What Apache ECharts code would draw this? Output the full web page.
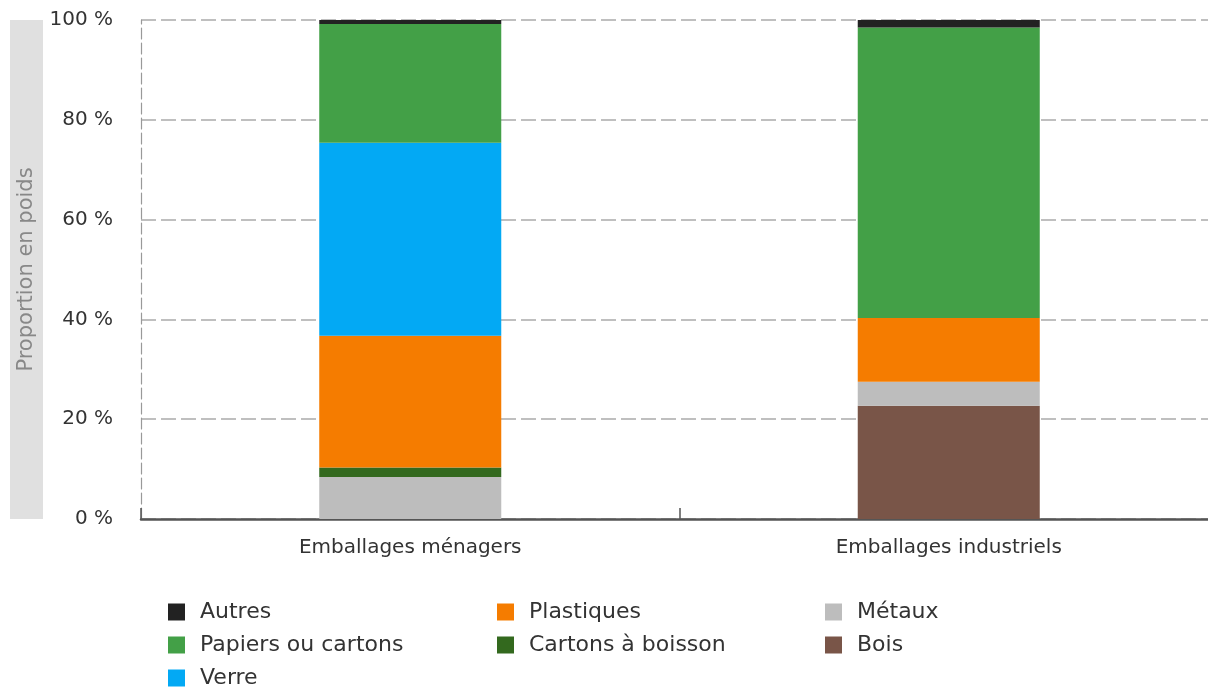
<!DOCTYPE html>
<html><head><meta charset="utf-8">
<script src="https://cdn.jsdelivr.net/npm/echarts@6/dist/echarts.min.js"></script>
<style>html,body{margin:0;padding:0;background:#fff}#c{width:1208px;height:688px}</style>
</head><body><div id="c"></div>
<script>
const categories = ['Emballages ménagers', 'Emballages industriels'];
const yTicks = [0, 20, 40, 60, 80, 100];
const bois = [0, 22.7];
const metaux = [8.4, 4.8];
const cartonsBoisson = [1.9, 0];
const plastiques = [26.4, 12.8];
const verre = [38.7, 0];
const papiers = [23.8, 58.2];
const autres = [0.8, 1.5];

const font = 'DejaVu Sans';
const seriesDefs = [
  ['Bois', bois, '#795548'],
  ['Métaux', metaux, '#bdbdbd'],
  ['Cartons à boisson', cartonsBoisson, '#33691e'],
  ['Plastiques', plastiques, '#f57c00'],
  ['Verre', verre, '#03a9f4'],
  ['Papiers ou cartons', papiers, '#43a047'],
  ['Autres', autres, '#222222']
];
const legendCommon = {
  orient: 'vertical', top: 601, height: 120, padding: 0,
  itemWidth: 17, itemHeight: 17, itemGap: 11,
  icon: 'rect',
  textStyle: {fontFamily: font, fontSize: 22, color: '#333', padding: [0, 0, 0, 10]}
};
const chart = echarts.init(document.getElementById('c'));
chart.setOption({
  animation: false,
  textStyle: {fontFamily: font},
  graphic: [{type: 'rect', shape: {x: 10, y: 20, width: 33, height: 499}, style: {fill: '#e0e0e0'}, z: -1}],
  grid: {left: 141, width: 1077, top: 20, bottom: 169, outerBoundsMode: 'none', containLabel: false},
  legend: [
    Object.assign({left: 168, data: ['Autres', 'Papiers ou cartons', 'Verre']}, legendCommon),
    Object.assign({left: 497, data: ['Plastiques', 'Cartons à boisson']}, legendCommon),
    Object.assign({left: 825, data: ['Métaux', 'Bois']}, legendCommon)
  ],
  xAxis: {
    type: 'category', data: categories,
    axisLine: {lineStyle: {color: '#555', width: 2.5}},
    axisTick: {show: true, inside: true, length: 11, lineStyle: {color: '#555', width: 1.5}},
    axisLabel: {fontSize: 20, color: '#333', margin: 19, fontFamily: font}
  },
  yAxis: {
    type: 'value', min: 0, max: 100, interval: 20,
    name: 'Proportion en poids', nameLocation: 'middle', nameGap: 104,
    nameTextStyle: {fontSize: 21, color: '#888', fontFamily: font},
    axisLine: {show: true, lineStyle: {color: '#999', type: [11, 4], width: 1.2}},
    axisTick: {show: false},
    axisLabel: {fontSize: 20, color: '#333', margin: 28, fontFamily: font,
      formatter: v => yTicks.includes(v) ? v + ' %' : ''},
    splitLine: {lineStyle: {color: '#aaa', type: [15, 5], width: 1.5}}
  },
  series: seriesDefs.map(([name, data, color]) => ({
    name, type: 'bar', stack: 'total', data, barWidth: '33.8%',
    itemStyle: {color}
  }))
});
</script></body></html>
